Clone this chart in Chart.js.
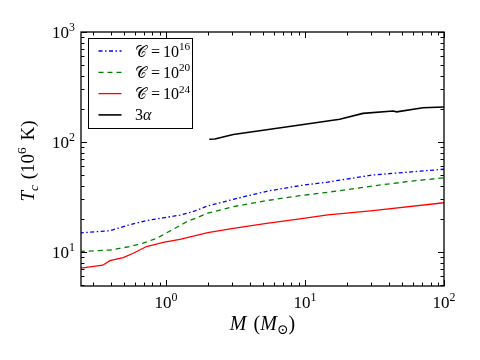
<!DOCTYPE html>
<html>
<head>
<meta charset="utf-8">
<script src="https://cdn.jsdelivr.net/npm/chart.js@4/dist/chart.umd.min.js"></script>
<style>
html, body { margin: 0; padding: 0; background: #fff; }
#wrap { width: 480px; height: 360px; }
</style>
</head>
<body>
<div id="wrap"><canvas id="tc-chart"></canvas></div>
<script>
// values (mass in M_sun, T_c in 10^6 K)
const massC16 = [0.24, 0.396, 0.551, 0.726, 0.952, 1.26, 1.56, 2.0, 3.05, 5.3, 9.2, 14.6, 30.8, 100];
const tempC16 = [14.9, 15.6, 17.7, 19.3, 20.4, 21.6, 23.2, 26.2, 30.1, 35.6, 40.1, 43.2, 50.1, 56.5];

const massC20 = [0.24, 0.396, 0.551, 0.684, 0.857, 1.07, 1.41, 2.0, 3.05, 5.3, 9.2, 13.9, 30.8, 53.9, 100];
const tempC20 = [10.1, 10.4, 11.2, 12.0, 13.3, 15.5, 18.8, 22.5, 25.8, 29.3, 32.5, 34.6, 39.8, 43.5, 47.3];

const massC24 = [0.24, 0.351, 0.396, 0.493, 0.582, 0.726, 0.956, 1.26, 2.0, 3.05, 5.3, 9.2, 14.6, 30.8, 100];
const temp24 = [7.1, 7.57, 8.34, 8.88, 9.73, 11.2, 12.2, 13.0, 15.0, 16.4, 18.2, 19.95, 21.7, 23.7, 28.0];

const mass3a = [2.05, 2.25, 3.05, 9.2, 17.8, 26.1, 43, 45.7, 70.6, 100];
const temp3a = [106, 106.5, 117, 142.8, 161, 182, 191, 188, 205, 208];

const xMajor = [1, 10, 100];
const yMajor = [10, 100, 1000];
const xRange = [0.245, 100];
const yRange = [4.9, 1000];

const legendExp = ['16', '20', '24'];

const FONT = '"Liberation Serif", "DejaVu Serif", serif';

function pts(xs, ys) {
    return xs.map((v, i) => ({ x: v, y: ys[i] }));
}

// draw a run of text pieces, some raised or lowered
function drawRich(ctx, segs, x, y, align, size) {
    const fontFor = (s) => (s.it ? 'italic ' : '') + ((s.sup || s.sub) ? size * 0.7 : size) + 'px ' + FONT;
    let total = 0;
    segs.forEach(s => { ctx.font = fontFor(s); total += ctx.measureText(s.t).width + (s.gap || 0); });
    let cx = x;
    if (align === 'center') cx = x - total / 2;
    if (align === 'right') cx = x - total;
    ctx.textAlign = 'left';
    ctx.textBaseline = 'alphabetic';
    segs.forEach(s => {
        ctx.font = fontFor(s);
        let dy = 0;
        if (s.sup) dy = -size * 0.4;
        if (s.sub) dy = size * 0.22;
        ctx.fillText(s.t, cx, y + dy);
        cx += ctx.measureText(s.t).width + (s.gap || 0);
    });
}

function powLabel(v) {
    return [{ t: '10' }, { t: String(Math.round(Math.log10(v))), sup: true }];
}

function minorTicks(lo, hi) {
    const out = [];
    for (let k = -2; k <= 3; k++) {
        for (let m = 2; m <= 9; m++) {
            const v = m * Math.pow(10, k);
            if (v > lo && v < hi) out.push(v);
        }
    }
    return out;
}

const axisFrame = {
    id: 'axisFrame',
    afterDatasetsDraw(chart) {
        const { ctx, chartArea: a, scales: { x, y } } = chart;
        ctx.save();
        ctx.strokeStyle = '#000';
        ctx.fillStyle = '#000';
        ctx.lineWidth = 1;

        const tickX = (v, len) => {
            const px = Math.round(x.getPixelForValue(v)) + 0.5;
            ctx.beginPath();
            ctx.moveTo(px, a.bottom); ctx.lineTo(px, a.bottom - len);
            ctx.moveTo(px, a.top); ctx.lineTo(px, a.top + len);
            ctx.stroke();
        };
        const tickY = (v, len) => {
            const py = Math.round(y.getPixelForValue(v)) + 0.5;
            ctx.beginPath();
            ctx.moveTo(a.left, py); ctx.lineTo(a.left + len, py);
            ctx.moveTo(a.right, py); ctx.lineTo(a.right - len, py);
            ctx.stroke();
        };
        minorTicks(xRange[0], xRange[1]).forEach(v => tickX(v, 3.5));
        minorTicks(yRange[0], yRange[1]).forEach(v => tickY(v, 3.5));
        xMajor.forEach(v => tickX(v, 6));
        yMajor.forEach(v => tickY(v, 6));

        ctx.lineWidth = 1.3;
        ctx.strokeRect(a.left, a.top, a.right - a.left, a.bottom - a.top);

        // tick labels
        xMajor.forEach(v => drawRich(ctx, powLabel(v), x.getPixelForValue(v), a.bottom + 22, 'center', 17));
        yMajor.forEach(v => drawRich(ctx, powLabel(v), a.left - 6, y.getPixelForValue(v) + 6, 'right', 17));

        // axis titles
        drawRich(ctx, [{ t: 'M', it: true, gap: 2 }, { t: ' (' }, { t: 'M', it: true }, { t: '⊙', sub: true }, { t: ')' }],
            (a.left + a.right) / 2, a.bottom + 44, 'center', 20);
        ctx.save();
        ctx.translate(a.left - 47, (a.top + a.bottom) / 2 + 2);
        ctx.rotate(-Math.PI / 2);
        drawRich(ctx, [{ t: 'T', it: true }, { t: 'c', it: true, sub: true, gap: 1 }, { t: ' (10' }, { t: '6', sup: true, gap: 2 }, { t: ' K)' }],
            0, 0, 'center', 19);
        ctx.restore();

        // legend
        const bx = a.left + 7.5, by = a.top + 6.5, bw = 104, bh = 90;
        ctx.fillStyle = '#fff';
        ctx.fillRect(bx, by, bw, bh);
        ctx.lineWidth = 1;
        ctx.strokeStyle = '#000';
        ctx.strokeRect(bx, by, bw, bh);
        chart.data.datasets.forEach((ds, i) => {
            const ry = by + 12.5 + i * 21.3;
            ctx.save();
            ctx.strokeStyle = ds.borderColor;
            ctx.lineWidth = ds.borderWidth;
            ctx.setLineDash(ds.borderDash || []);
            ctx.beginPath();
            ctx.moveTo(bx + 10, ry); ctx.lineTo(bx + 33, ry);
            ctx.stroke();
            ctx.restore();
            ctx.fillStyle = '#000';
            const segs = i < legendExp.length
                ? [{ t: '𝒞', gap: 4 }, { t: '=', gap: 3 }, { t: '10' }, { t: legendExp[i], sup: true }]
                : [{ t: '3' }, { t: 'α', it: true }];
            drawRich(ctx, segs, bx + 46.5, ry + 5.5, 'left', 16);
        });
        ctx.restore();
    }
};

new Chart(document.getElementById('tc-chart'), {
    type: 'line',
    data: {
        datasets: [
            { label: 'C = 10^16', data: pts(massC16, tempC16), borderColor: '#0000ff', borderWidth: 1.3, borderDash: [4, 2.5, 1.5, 2.5] },
            { label: 'C = 10^20', data: pts(massC20, tempC20), borderColor: '#008000', borderWidth: 1.3, borderDash: [5, 4] },
            { label: 'C = 10^24', data: pts(massC24, temp24), borderColor: '#ff0000', borderWidth: 1.3 },
            { label: '3α', data: pts(mass3a, temp3a), borderColor: '#000000', borderWidth: 1.6 }
        ]
    },
    options: {
        responsive: true,
        maintainAspectRatio: false,
        animation: false,
        layout: { padding: { left: 81, right: 36, top: 32, bottom: 74 } },
        elements: { point: { radius: 0 }, line: { tension: 0, fill: false } },
        plugins: { legend: { display: false }, tooltip: { enabled: false } },
        scales: {
            x: { type: 'logarithmic', min: xRange[0], max: xRange[1], display: false },
            y: { type: 'logarithmic', min: yRange[0], max: yRange[1], display: false }
        }
    },
    plugins: [axisFrame]
});
</script>
</body>
</html>
